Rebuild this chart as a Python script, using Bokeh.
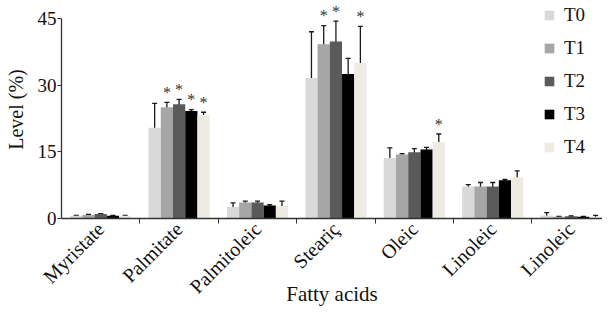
import numpy as np
from bokeh.plotting import figure
from bokeh.models import (ColumnDataSource, Whisker, FixedTicker, Legend, LegendItem,
                          Range1d)
from bokeh.core.properties import value
from bokeh.embed import file_html
from bokeh.resources import INLINE

categories = ["Myristate", "Palmitate", "Palmitoleic", "Steariç", "Oleic", "Linoleic", "Linoleic"]
series = ["T0", "T1", "T2", "T3", "T4"]
colors = ["#d9d9d9", "#a6a6a6", "#5a5a5a", "#000000", "#eeece2"]

means = {
    "T0": [0.6, 20.4, 2.6, 31.6, 13.6, 7.2, 0.7],
    "T1": [0.8, 25.0, 3.6, 39.2, 14.4, 7.2, 0.4],
    "T2": [1.0, 25.7, 3.6, 39.8, 14.9, 7.2, 0.5],
    "T3": [0.6, 24.2, 2.9, 32.5, 15.5, 8.6, 0.4],
    "T4": [0.6, 23.3, 2.8, 35.0, 17.2, 9.3, 0.4],
}
errors = {
    "T0": [0.1, 5.5, 0.9, 10.4, 2.3, 0.4, 0.6],
    "T1": [0.1, 1.1, 0.3, 4.2, 0.2, 0.9, 0.1],
    "T2": [0.1, 1.1, 0.3, 4.6, 0.8, 0.9, 0.1],
    "T3": [0.1, 0.3, 0.2, 3.5, 0.5, 0.2, 0.1],
    "T4": [0.1, 0.6, 1.1, 8.2, 1.8, 1.4, 0.3],
}
significant = {
    "T0": [0, 0, 0, 0, 0, 0, 0],
    "T1": [0, 1, 0, 1, 0, 0, 0],
    "T2": [0, 1, 0, 1, 0, 0, 0],
    "T3": [0, 1, 0, 0, 0, 0, 0],
    "T4": [0, 1, 0, 1, 1, 0, 0],
}
y_ticks = [0, 15, 30, 45]

FONT = "Liberation Serif"
W, H = 602, 309

p = figure(width=W, height=H, output_backend="svg", toolbar_location=None,
           x_range=Range1d(0, 6.9), y_range=Range1d(0, 49.03),
           min_border_left=61, min_border_right=0, min_border_top=0, min_border_bottom=90)
p.outline_line_color = None
p.grid.visible = False

bar_w = 0.156
centers = np.arange(len(categories)) + 0.5
items = []
for i, s in enumerate(series):
    xs = centers + (i - 2) * bar_w
    m = np.array(means[s])
    e = np.array(errors[s])
    src = ColumnDataSource(dict(x=xs, top=m, lo=m - e, hi=m + e))
    r = p.vbar(x="x", top="top", width=bar_w, bottom=0, source=src,
               fill_color=colors[i], line_color=None)
    items.append(LegendItem(label=s, renderers=[r]))
    w = Whisker(base="x", lower="lo", upper="hi", source=src, line_color="#1a1a1a",
                line_width=1.3)
    w.upper_head.size = 5
    w.lower_head.size = 5
    w.upper_head.line_color = "#1a1a1a"
    w.lower_head.line_color = "#1a1a1a"
    w.upper_head.line_width = 1.3
    w.lower_head.line_width = 1.3
    p.add_layout(w)
    sig = np.array(significant[s]).astype(bool)
    if sig.any():
        ssrc = ColumnDataSource(dict(x=xs[sig], y=(m + e)[sig]))
        p.text(x="x", y="y", text=value("*"), source=ssrc, text_align="center",
               text_baseline="middle", y_offset=-10, text_font=value(FONT),
               text_font_size="16px", text_color="#333333")

legend = Legend(items=items, location=(482, 60), orientation="vertical",
                glyph_width=12, glyph_height=12, label_text_font=FONT,
                label_text_font_size="19px", label_text_color="#111111",
                label_standoff=9, spacing=11,
                padding=0, border_line_color=None, background_fill_alpha=0,
                label_height=20)
p.add_layout(legend)

# axes
xa = p.xaxis[0]
xa.ticker = FixedTicker(ticks=list(centers), minor_ticks=list(range(1, len(categories))))
xa.major_label_overrides = {float(c): lab for c, lab in zip(centers, categories)}
xa.major_tick_out = 0
xa.major_tick_in = 0
xa.minor_tick_out = 5
xa.minor_tick_in = 0
xa.minor_tick_line_color = "#333333"
xa.major_label_orientation = np.pi / 4
xa.major_label_text_font = FONT
xa.major_label_text_font_size = "20px"
xa.major_label_text_color = "#111111"
xa.major_label_standoff = 2
xa.axis_line_color = "#333333"
xa.axis_line_width = 1.3
xa.axis_label = "Fatty acids"
xa.axis_label_text_font = FONT
xa.axis_label_text_font_size = "21px"
xa.axis_label_text_font_style = "normal"
xa.axis_label_text_color = "#111111"
xa.axis_label_standoff = -26

ya = p.yaxis[0]
ya.ticker = FixedTicker(ticks=y_ticks, minor_ticks=[])
ya.bounds = (0, 45)
ya.major_tick_out = 4
ya.major_tick_in = 0
ya.major_tick_line_color = "#333333"
ya.axis_line_color = "#333333"
ya.axis_line_width = 1.3
ya.major_label_text_font = FONT
ya.major_label_text_font_size = "19px"
ya.major_label_text_color = "#111111"
ya.major_label_standoff = 1
ya.axis_label = "Level (%)"
ya.axis_label_text_font = FONT
ya.axis_label_text_font_size = "20px"
ya.axis_label_text_font_style = "normal"
ya.axis_label_text_color = "#111111"
ya.axis_label_standoff = 8

open("out.html", "w").write(file_html(p, INLINE))
